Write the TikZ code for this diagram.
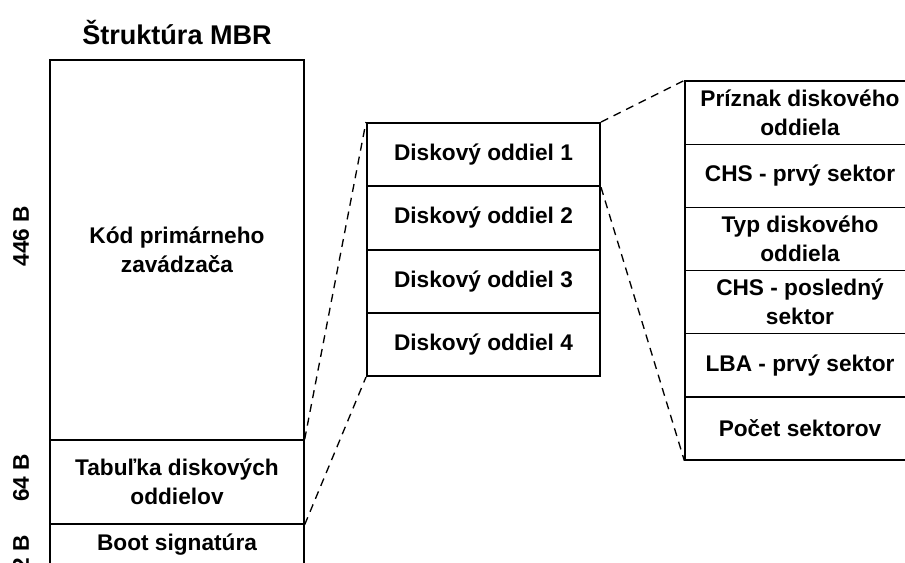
\documentclass[tikz,border=0pt]{standalone}
\usepackage{fontspec}
\setmainfont{Liberation Sans}
\begin{document}
\begin{tikzpicture}[x=0.75pt,y=-0.75pt,
  txt/.style={font=\fontsize{17}{21.5}\selectfont\bfseries, align=center, inner sep=0pt},
  cell/.style={txt, draw=black, line width=1pt, minimum width=190.5pt},
  part/.style={txt, draw=black, line width=1.5pt, minimum width=174.75pt, minimum height=47.4pt},
  field/.style={txt, draw=black, line width=1pt, minimum width=172.5pt, minimum height=47.4pt},
  size/.style={txt, rotate=90},
  conn/.style={draw=black, line width=1pt, dash pattern=on 6pt off 4.5pt}]
\useasboundingbox (0,0) rectangle (905,562);
\clip (0,0) rectangle (905,562);
\fill[white] (0,0) rectangle (905,562);

% title
\node[txt, font=\fontsize{20.3}{24}\selectfont\bfseries] (title) at (177,32) {Štruktúra MBR};

% MBR layout column
\node[cell, minimum height=285pt] (kod) at (177,250) {Kód primárneho\\zavádzača};
\node[cell, minimum height=63pt] (tab) at (177,482) {Tabuľka diskových\\oddielov};
\node[cell, minimum height=31.5pt] (boot) at (177,545) {Boot signatúra};

% sizes of the sections
\node[size] (s446) at (21,236) {446 B};
\node[size] (s64) at (21,478) {64 B};
\node[size] (s2) at (21,553) {2 B};

% partition table entries
\node[part] (p1) at (483.5,154.6) {Diskový oddiel 1};
\node[part] (p2) at (483.5,217.9) {Diskový oddiel 2};
\node[part] (p3) at (483.5,281.1) {Diskový oddiel 3};
\node[part] (p4) at (483.5,344.4) {Diskový oddiel 4};

% fields of one partition entry
\node[field] (f1) at (800,112.6) {Príznak diskového\\oddiela};
\node[field] (f2) at (800,175.8) {CHS - prvý sektor};
\node[field] (f3) at (800,238.9) {Typ diskového\\oddiela};
\node[field] (f4) at (800,302.1) {CHS - posledný\\sektor};
\node[field] (f5) at (800,365.3) {LBA - prvý sektor};
\node[field] (f6) at (800,428.4) {Počet sektorov};

% zoom guides
\draw[conn] (tab.north east) -- (p1.north west);
\draw[conn] (tab.south east) -- (p4.south west);
\draw[conn] (p1.north east) -- (f1.north west);
\draw[conn] (p1.south east) -- (f6.south west);
\end{tikzpicture}
\end{document}
